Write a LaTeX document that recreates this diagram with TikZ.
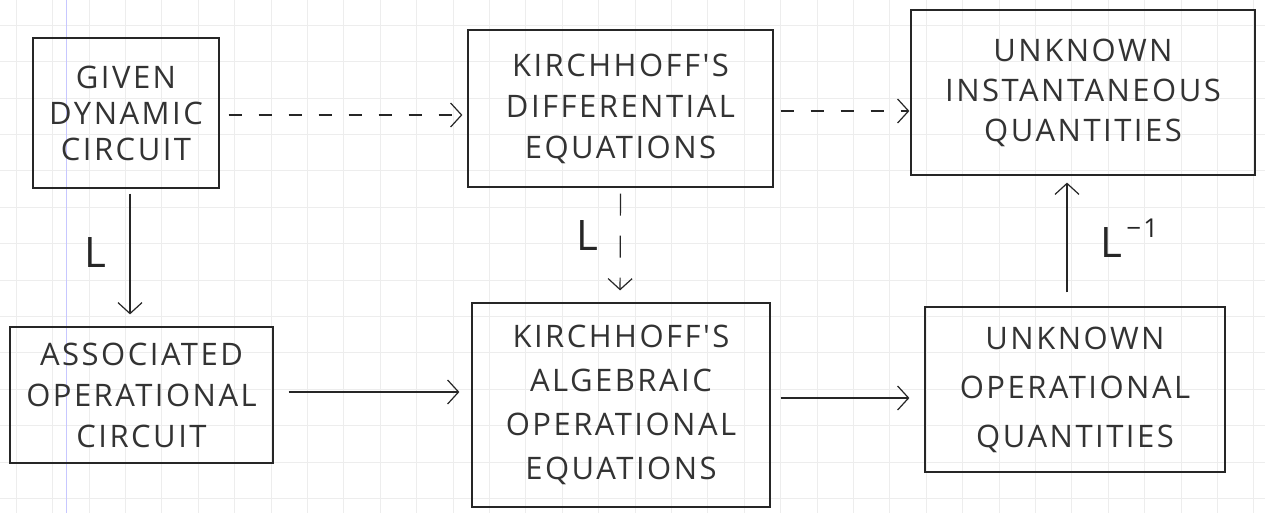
\documentclass[tikz,border=0pt]{standalone}
\usepackage{fontspec}
\setmainfont{Open Sans}
\newfontfamily\hand[LetterSpace=8]{Open Sans}
\usetikzlibrary{arrows.meta}
\begin{document}
\begin{tikzpicture}[x=1pt,y=-1pt,
  pencil/.style={draw=black!85, line width=1.2pt},
  box/.style={pencil, rectangle, inner sep=0pt, align=center, text=black!80},
  conn/.style={pencil, -{Straight Barb[length=11pt,width=24pt,line width=1.2pt]}},
  dconn/.style={conn, dash pattern=on 13pt off 17pt},
  lab/.style={text=black!85, inner sep=0pt, font=\hand\fontsize{42}{42}\selectfont},
  gridline/.style={draw=black!7, line width=0.5pt}]
\useasboundingbox (0,0) rectangle (1265,513);
\fill[white] (0,0) rectangle (1265,513);
\foreach \i in {0,...,34} \draw[gridline] (16+\i*36.4,0) -- (16+\i*36.4,513);
\foreach \j in {0,...,14} \draw[gridline] (0,-11.4+\j*36.4) -- (1265,-11.4+\j*36.4);
\draw[draw=blue!22, line width=0.8pt] (66,0) -- (66,513);

\node[box, minimum width=186pt, minimum height=150pt, font=\hand\fontsize{31}{36}\selectfont] (A) at (126,113) {GIVEN\\DYNAMIC\\CIRCUIT};
\node[box, minimum width=305pt, minimum height=157pt, font=\hand\fontsize{31}{41}\selectfont] (B) at (620.5,108.5) {KIRCHHOFF'S\\DIFFERENTIAL\\EQUATIONS};
\node[box, minimum width=344pt, minimum height=165pt, font=\hand\fontsize{31}{40}\selectfont] (C) at (1083,92.5) {UNKNOWN\\INSTANTANEOUS\\QUANTITIES};
\node[box, minimum width=263pt, minimum height=136pt, font=\hand\fontsize{31}{41}\selectfont] (D) at (141.5,395) {ASSOCIATED\\OPERATIONAL\\CIRCUIT};
\node[box, minimum width=298pt, minimum height=204pt, font=\hand\fontsize{31}{44}\selectfont] (E) at (621,405) {KIRCHHOFF'S\\ALGEBRAIC\\OPERATIONAL\\EQUATIONS};
\node[box, minimum width=300pt, minimum height=165pt, font=\hand\fontsize{31}{49}\selectfont] (F) at (1075,389.5) {UNKNOWN\\OPERATIONAL\\QUANTITIES};

\draw[dconn, shorten <=9pt, shorten >=5pt] ([yshift=-2pt]A.east) -- ([yshift=-6.5pt]B.west);
\draw[dconn, shorten <=7pt, shorten >=1pt] ([yshift=-2.5pt]B.east) -- ([yshift=-18.5pt]C.west);
\draw[conn, shorten <=5pt, shorten >=12pt] ([xshift=4pt]A.south) -- ([xshift=-11.5pt]D.north);
\draw[dconn, dash pattern=on 22pt off 20pt, shorten <=6pt, shorten >=12pt] (B.south) -- ([xshift=-1pt]E.north);
\draw[conn, shorten <=15pt, shorten >=12pt] ([yshift=3pt]D.east) -- ([yshift=13pt]E.west);
\draw[conn, shorten <=10pt, shorten >=15pt] ([yshift=7pt]E.east) -- ([yshift=-8.5pt]F.west);
\draw[conn, shorten <=14pt, shorten >=7pt] ([xshift=-8pt]F.north) -- ([xshift=-16pt]C.south);

\node[lab, anchor=base] (l1) at (95,267) {L};
\node[lab, anchor=base] (l2) at (587,250) {L};
\node[lab, anchor=base west] (l3) at (1100,257) {L\raisebox{20pt}{\fontsize{26}{26}\selectfont\,−1}};
\end{tikzpicture}
\end{document}
